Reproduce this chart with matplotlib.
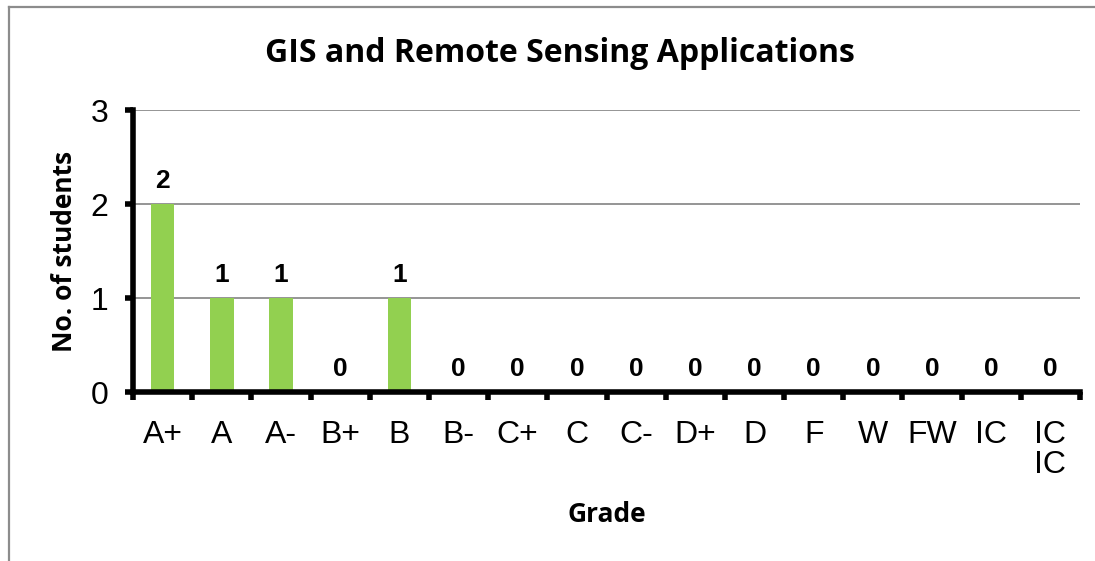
import matplotlib.pyplot as plt
from matplotlib.lines import Line2D

grades = ["A+", "A", "A-", "B+", "B", "B-", "C+", "C", "C-", "D+",
          "D", "F", "W", "FW", "IC", "IC\nIC"]
students = [2, 1, 1, 0, 1, 0, 0, 0, 0, 0, 0, 0, 0, 0, 0, 0]

plt.rcParams["font.family"] = ["Liberation Sans", "DejaVu Sans"]

fig = plt.figure(figsize=(10.95, 5.61), dpi=100)
ax = fig.add_axes([0.1215, 0.3012, 0.8648, 0.5027])

x = list(range(len(grades)))
ax.bar(x, students, width=0.4, color="#92D050", zorder=3)

for xi, v in zip(x, students):
    ax.annotate(str(v), (xi, v), xytext=(0, 8), textcoords="offset points",
                ha="center", va="bottom", fontsize=19, fontweight="bold")

ax.set_xlim(-0.5, len(grades) - 0.5)
ax.set_ylim(0, 3)
ax.set_yticks([0, 1, 2, 3])
ax.yaxis.grid(True, color="#8c8c8c", linewidth=1.3, zorder=0)

ax.set_xticks(x)
ax.set_xticklabels(grades, fontsize=23, va="top", linespacing=1.0)
ax.set_xticks([i - 0.5 for i in range(len(grades) + 1)], minor=True)
ax.tick_params(axis="x", which="major", length=0, pad=20)
ax.tick_params(axis="x", which="minor", length=6, width=4, direction="out")
ax.tick_params(axis="y", which="major", length=6, width=4, labelsize=23, pad=12)

for s in ["top", "right"]:
    ax.spines[s].set_visible(False)
ax.spines["left"].set_linewidth(4)
ax.spines["bottom"].set_linewidth(4)
ax.spines["bottom"].set_zorder(4)

fig.text(0.511, 0.9055, "GIS and Remote Sensing Applications",
         family=["Open Sans", "DejaVu Sans"], fontweight="bold", fontsize=23,
         ha="center", va="center")
fig.text(0.059, 0.551, "No. of students", family=["Open Sans", "DejaVu Sans"],
         fontweight="bold", fontsize=19, rotation=90, ha="center", va="center")
fig.text(0.554, 0.082, "Grade", family=["Open Sans", "DejaVu Sans"],
         fontweight="bold", fontsize=19, ha="center", va="center")

W, H = 1095, 561
fig.add_artist(Line2D([9 / W, 1], [1 - 7 / H, 1 - 7 / H], color="#8c8c8c",
                      linewidth=1.6))
fig.add_artist(Line2D([9 / W, 9 / W], [0, 1 - 7 / H], color="#8c8c8c",
                      linewidth=1.6))

fig.savefig("out.png", dpi=100)
